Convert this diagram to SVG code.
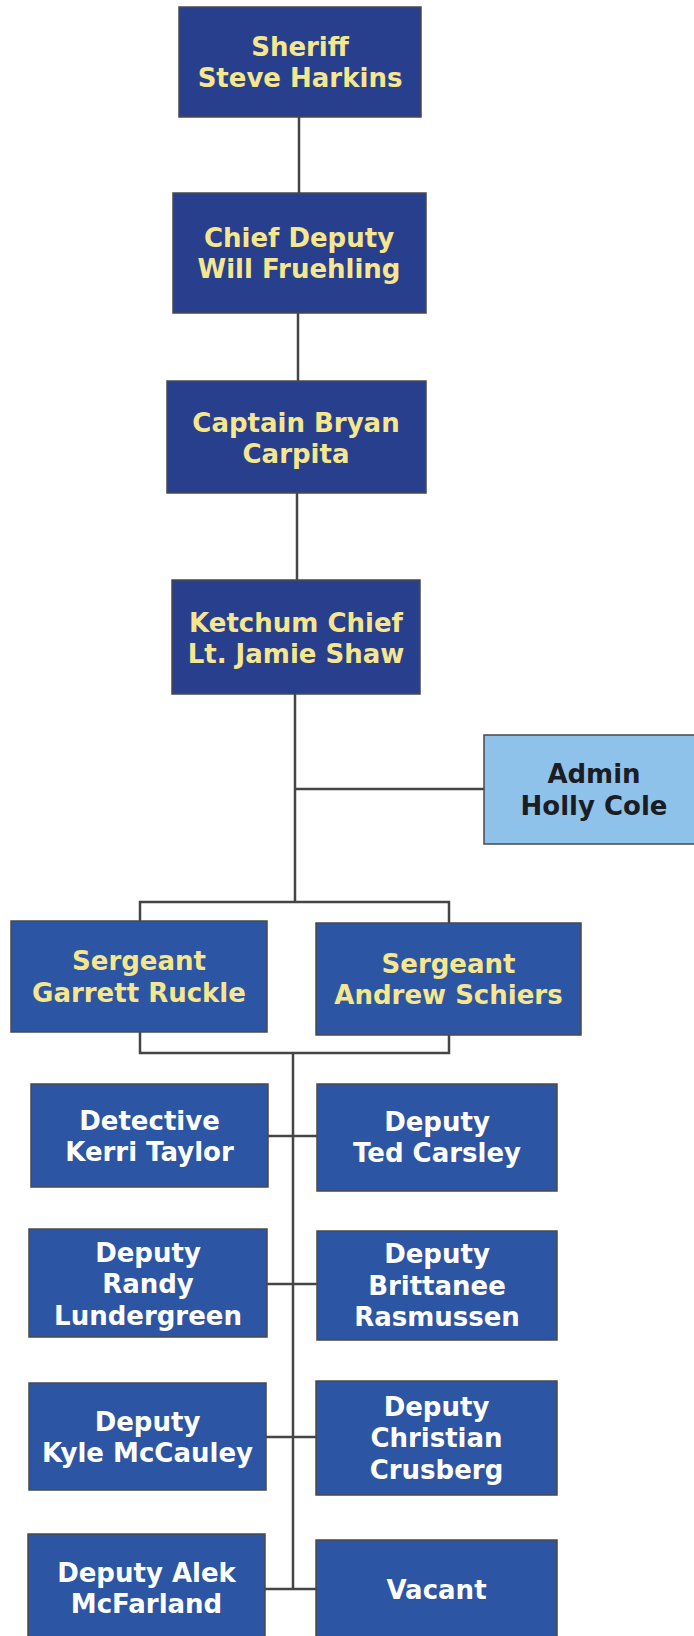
<svg xmlns="http://www.w3.org/2000/svg" width="694" height="1636" viewBox="0 0 694 1636">
<style>
.bx{stroke:#4a4a4a;stroke-width:1.5}
.top{fill:#283f8e}
.mid{fill:#2c55a4}
.adm{fill:#8ec2ea}
.t{font-family:"DejaVu Sans",Verdana,sans-serif;font-weight:bold;font-size:26px;text-anchor:middle}
.y{fill:#f6e78f}
.w{fill:#ffffff}
.d{fill:#1c1c24}
.c{stroke:#454545;stroke-width:2.5;fill:none}
</style>
<rect width="694" height="1636" fill="#ffffff"/>
<g id="connectors">
<line class="c" x1="299" y1="117" x2="299" y2="193"/>
<line class="c" x1="298" y1="313" x2="298" y2="381"/>
<line class="c" x1="297" y1="493" x2="297" y2="580"/>
<line class="c" x1="295" y1="694" x2="295" y2="902"/>
<line class="c" x1="295" y1="789" x2="484" y2="789"/>
<polyline class="c" points="140,921 140,902 449,902 449,923"/>
<polyline class="c" points="140,1032 140,1053 449,1053 449,1035"/>
<line class="c" x1="293" y1="1053" x2="293" y2="1589"/>
<line class="c" x1="268" y1="1136" x2="317" y2="1136"/>
<line class="c" x1="267" y1="1284" x2="317" y2="1284"/>
<line class="c" x1="266" y1="1437" x2="316" y2="1437"/>
<line class="c" x1="265" y1="1589" x2="316" y2="1589"/>
</g>
<g id="sheriff">
<rect class="bx top" x="179" y="7" width="242" height="110"/>
<text class="t y" x="300" y="55.5">Sheriff</text>
<text class="t y" x="300" y="87">Steve Harkins</text>
</g>
<g id="chief-deputy">
<rect class="bx top" x="173" y="193" width="253" height="120"/>
<text class="t y" x="299" y="247">Chief Deputy</text>
<text class="t y" x="299" y="278">Will Fruehling</text>
</g>
<g id="captain">
<rect class="bx top" x="167" y="381" width="259" height="112"/>
<text class="t y" x="296" y="431.5">Captain Bryan</text>
<text class="t y" x="296" y="463">Carpita</text>
</g>
<g id="ketchum-chief">
<rect class="bx top" x="172" y="580" width="248" height="114"/>
<text class="t y" x="296" y="631.5">Ketchum Chief</text>
<text class="t y" x="296" y="663">Lt. Jamie Shaw</text>
</g>
<g id="admin">
<rect class="bx adm" x="484" y="735" width="225" height="109"/>
<text class="t d" x="594" y="783">Admin</text>
<text class="t d" x="594" y="815">Holly Cole</text>
</g>
<g id="sgt-ruckle">
<rect class="bx mid" x="11" y="921" width="256" height="111"/>
<text class="t y" x="139" y="970">Sergeant</text>
<text class="t y" x="139" y="1001.5">Garrett Ruckle</text>
</g>
<g id="sgt-schiers">
<rect class="bx mid" x="316" y="923" width="265" height="112"/>
<text class="t y" x="448.5" y="973">Sergeant</text>
<text class="t y" x="448.5" y="1004">Andrew Schiers</text>
</g>
<g id="det-taylor">
<rect class="bx mid" x="31" y="1084" width="237" height="103"/>
<text class="t w" x="149.5" y="1129.5">Detective</text>
<text class="t w" x="149.5" y="1160.5">Kerri Taylor</text>
</g>
<g id="dep-carsley">
<rect class="bx mid" x="317" y="1084" width="240" height="107"/>
<text class="t w" x="437" y="1130.5">Deputy</text>
<text class="t w" x="437" y="1162">Ted Carsley</text>
</g>
<g id="dep-lundergreen">
<rect class="bx mid" x="29" y="1229" width="238" height="108"/>
<text class="t w" x="148" y="1261.5">Deputy</text>
<text class="t w" x="148" y="1293">Randy</text>
<text class="t w" x="148" y="1324.5">Lundergreen</text>
</g>
<g id="dep-rasmussen">
<rect class="bx mid" x="317" y="1231" width="240" height="109"/>
<text class="t w" x="437" y="1263">Deputy</text>
<text class="t w" x="437" y="1294.5">Brittanee</text>
<text class="t w" x="437" y="1326">Rasmussen</text>
</g>
<g id="dep-mccauley">
<rect class="bx mid" x="29" y="1383" width="237" height="107"/>
<text class="t w" x="147.5" y="1431">Deputy</text>
<text class="t w" x="147.5" y="1462">Kyle McCauley</text>
</g>
<g id="dep-crusberg">
<rect class="bx mid" x="316" y="1381" width="241" height="114"/>
<text class="t w" x="436.5" y="1415.5">Deputy</text>
<text class="t w" x="436.5" y="1447">Christian</text>
<text class="t w" x="436.5" y="1478.5">Crusberg</text>
</g>
<g id="dep-mcfarland">
<rect class="bx mid" x="28" y="1534" width="237" height="112"/>
<text class="t w" x="146.5" y="1582">Deputy Alek</text>
<text class="t w" x="146.5" y="1613">McFarland</text>
</g>
<g id="vacant">
<rect class="bx mid" x="316" y="1540" width="241" height="106"/>
<text class="t w" x="436.5" y="1599">Vacant</text>
</g>
</svg>
